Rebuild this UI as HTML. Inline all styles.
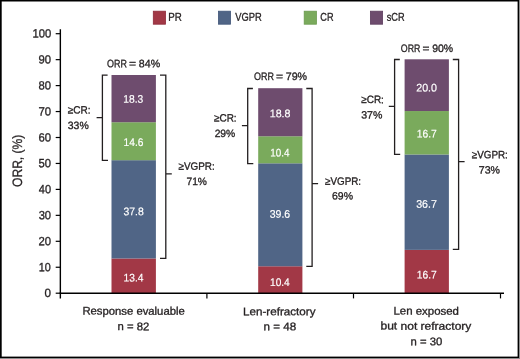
<!DOCTYPE html><html><head><meta charset="utf-8"><style>html,body{margin:0;padding:0;background:#fff}svg{display:block;will-change:transform}text{font-family:"Liberation Sans", sans-serif;stroke-width:0.32px;paint-order:stroke}</style></head><body>
<svg width="520" height="359" viewBox="0 0 520 359"><g>
<rect x="0" y="0" width="520" height="359" fill="#fff"/>
<rect x="519" y="0" width="1" height="359" fill="#8e8e8e"/>
<rect x="0" y="358" width="520" height="1" fill="#8e8e8e"/>
<g fill="#000"><rect x="0" y="0" width="1.7" height="358"/><rect x="0" y="0" width="519" height="1.5"/><rect x="517.6" y="0" width="1.4" height="358"/><rect x="0" y="356.6" width="519" height="1.4"/></g>
<rect x="153.30" y="11.2" width="12.2" height="13.0" fill="#a23846" stroke="#8e2a3a" stroke-width="0.8"/>
<text x="168.26" y="20.80" font-size="11.30" textLength="13.53" lengthAdjust="spacingAndGlyphs" fill="#231f20" stroke="#231f20" transform="rotate(0.1 168.26 20.80)">PR</text>
<rect x="218.40" y="11.2" width="12.2" height="13.0" fill="#506586" stroke="#42577a" stroke-width="0.8"/>
<text x="235.32" y="20.80" font-size="11.30" textLength="26.45" lengthAdjust="spacingAndGlyphs" fill="#231f20" stroke="#231f20" transform="rotate(0.1 235.32 20.80)">VGPR</text>
<rect x="304.20" y="11.2" width="12.2" height="13.0" fill="#7aaa5c" stroke="#6a9a4e" stroke-width="0.8"/>
<text x="320.30" y="20.80" font-size="11.30" textLength="13.17" lengthAdjust="spacingAndGlyphs" fill="#231f20" stroke="#231f20" transform="rotate(0.1 320.30 20.80)">CR</text>
<rect x="370.40" y="11.2" width="12.2" height="13.0" fill="#6e4c6e" stroke="#5e3e60" stroke-width="0.8"/>
<text x="386.70" y="20.80" font-size="11.30" textLength="17.86" lengthAdjust="spacingAndGlyphs" fill="#231f20" stroke="#231f20" transform="rotate(0.1 386.70 20.80)">sCR</text>
<rect x="111.50" y="258.46" width="44.40" height="34.84" fill="#a23846"/>
<rect x="111.50" y="160.18" width="44.40" height="98.28" fill="#506586"/>
<rect x="111.50" y="122.22" width="44.40" height="37.96" fill="#7aaa5c"/>
<rect x="111.50" y="75.00" width="44.40" height="47.22" fill="#6e4c6e"/>
<rect x="258.20" y="266.26" width="44.20" height="27.04" fill="#a23846"/>
<rect x="258.20" y="163.30" width="44.20" height="102.96" fill="#506586"/>
<rect x="258.20" y="136.26" width="44.20" height="27.04" fill="#7aaa5c"/>
<rect x="258.20" y="88.20" width="44.20" height="48.06" fill="#6e4c6e"/>
<rect x="404.60" y="249.88" width="44.30" height="43.42" fill="#a23846"/>
<rect x="404.60" y="154.46" width="44.30" height="95.42" fill="#506586"/>
<rect x="404.60" y="111.04" width="44.30" height="43.42" fill="#7aaa5c"/>
<rect x="404.60" y="59.30" width="44.30" height="51.74" fill="#6e4c6e"/>
<text style="stroke-width:0.18px" x="123.61" y="281.50" font-size="11.00" textLength="19.90" lengthAdjust="spacingAndGlyphs" fill="#fff" stroke="#fff" transform="rotate(0.1 123.61 281.50)">13.4</text>
<text style="stroke-width:0.18px" x="123.49" y="215.20" font-size="11.00" textLength="20.27" lengthAdjust="spacingAndGlyphs" fill="#fff" stroke="#fff" transform="rotate(0.1 123.49 215.20)">37.8</text>
<text style="stroke-width:0.18px" x="123.61" y="146.10" font-size="11.00" textLength="19.84" lengthAdjust="spacingAndGlyphs" fill="#fff" stroke="#fff" transform="rotate(0.1 123.61 146.10)">14.6</text>
<text style="stroke-width:0.18px" x="123.31" y="102.80" font-size="11.00" textLength="19.95" lengthAdjust="spacingAndGlyphs" fill="#fff" stroke="#fff" transform="rotate(0.1 123.31 102.80)">18.3</text>
<text style="stroke-width:0.18px" x="270.02" y="285.90" font-size="11.00" textLength="19.69" lengthAdjust="spacingAndGlyphs" fill="#fff" stroke="#fff" transform="rotate(0.1 270.02 285.90)">10.4</text>
<text style="stroke-width:0.18px" x="269.69" y="217.80" font-size="11.00" textLength="20.48" lengthAdjust="spacingAndGlyphs" fill="#fff" stroke="#fff" transform="rotate(0.1 269.69 217.80)">39.6</text>
<text style="stroke-width:0.18px" x="270.24" y="156.50" font-size="11.00" textLength="19.16" lengthAdjust="spacingAndGlyphs" fill="#fff" stroke="#fff" transform="rotate(0.1 270.24 156.50)">10.4</text>
<text style="stroke-width:0.18px" x="269.78" y="117.20" font-size="11.00" textLength="20.69" lengthAdjust="spacingAndGlyphs" fill="#fff" stroke="#fff" transform="rotate(0.1 269.78 117.20)">18.8</text>
<text style="stroke-width:0.18px" x="416.71" y="278.60" font-size="11.00" textLength="20.02" lengthAdjust="spacingAndGlyphs" fill="#fff" stroke="#fff" transform="rotate(0.1 416.71 278.60)">16.7</text>
<text style="stroke-width:0.18px" x="416.18" y="207.80" font-size="11.00" textLength="20.76" lengthAdjust="spacingAndGlyphs" fill="#fff" stroke="#fff" transform="rotate(0.1 416.18 207.80)">36.7</text>
<text style="stroke-width:0.18px" x="416.71" y="137.60" font-size="11.00" textLength="20.02" lengthAdjust="spacingAndGlyphs" fill="#fff" stroke="#fff" transform="rotate(0.1 416.71 137.60)">16.7</text>
<text style="stroke-width:0.18px" x="416.25" y="91.60" font-size="11.00" textLength="20.77" lengthAdjust="spacingAndGlyphs" fill="#fff" stroke="#fff" transform="rotate(0.1 416.25 91.60)">20.0</text>
<text x="107.04" y="67.30" font-size="10.80" textLength="19.88" lengthAdjust="spacingAndGlyphs" fill="#231f20" stroke="#231f20" transform="rotate(0.1 107.04 67.30)">ORR</text>
<text x="128.98" y="67.30" font-size="10.80" textLength="7.07" lengthAdjust="spacingAndGlyphs" fill="#231f20" stroke="#231f20" transform="rotate(0.1 128.98 67.30)">=</text>
<text x="138.86" y="67.30" font-size="10.80" textLength="21.26" lengthAdjust="spacingAndGlyphs" fill="#231f20" stroke="#231f20" transform="rotate(0.1 138.86 67.30)">84%</text>
<text x="253.94" y="79.90" font-size="10.80" textLength="19.92" lengthAdjust="spacingAndGlyphs" fill="#231f20" stroke="#231f20" transform="rotate(0.1 253.94 79.90)">ORR</text>
<text x="275.92" y="79.90" font-size="10.80" textLength="7.08" lengthAdjust="spacingAndGlyphs" fill="#231f20" stroke="#231f20" transform="rotate(0.1 275.92 79.90)">=</text>
<text x="285.74" y="79.90" font-size="10.80" textLength="21.38" lengthAdjust="spacingAndGlyphs" fill="#231f20" stroke="#231f20" transform="rotate(0.1 285.74 79.90)">79%</text>
<text x="400.84" y="52.00" font-size="10.80" textLength="19.57" lengthAdjust="spacingAndGlyphs" fill="#231f20" stroke="#231f20" transform="rotate(0.1 400.84 52.00)">ORR</text>
<text x="422.45" y="52.00" font-size="10.80" textLength="6.95" lengthAdjust="spacingAndGlyphs" fill="#231f20" stroke="#231f20" transform="rotate(0.1 422.45 52.00)">=</text>
<text x="432.15" y="52.00" font-size="10.80" textLength="20.96" lengthAdjust="spacingAndGlyphs" fill="#231f20" stroke="#231f20" transform="rotate(0.1 432.15 52.00)">90%</text>
<text x="67.84" y="113.40" font-size="10.60" textLength="22.71" lengthAdjust="spacingAndGlyphs" fill="#231f20" stroke="#231f20" transform="rotate(0.1 67.84 113.40)">≥CR:</text>
<text x="67.76" y="129.10" font-size="10.60" textLength="20.95" lengthAdjust="spacingAndGlyphs" fill="#231f20" stroke="#231f20" transform="rotate(0.1 67.76 129.10)">33%</text>
<text x="214.04" y="121.40" font-size="10.60" textLength="22.60" lengthAdjust="spacingAndGlyphs" fill="#231f20" stroke="#231f20" transform="rotate(0.1 214.04 121.40)">≥CR:</text>
<text x="214.64" y="137.10" font-size="10.60" textLength="20.67" lengthAdjust="spacingAndGlyphs" fill="#231f20" stroke="#231f20" transform="rotate(0.1 214.64 137.10)">29%</text>
<text x="361.24" y="103.10" font-size="10.60" textLength="22.60" lengthAdjust="spacingAndGlyphs" fill="#231f20" stroke="#231f20" transform="rotate(0.1 361.24 103.10)">≥CR:</text>
<text x="361.16" y="118.50" font-size="10.60" textLength="21.16" lengthAdjust="spacingAndGlyphs" fill="#231f20" stroke="#231f20" transform="rotate(0.1 361.16 118.50)">37%</text>
<text x="178.55" y="169.80" font-size="10.60" textLength="36.20" lengthAdjust="spacingAndGlyphs" fill="#231f20" stroke="#231f20" transform="rotate(0.1 178.55 169.80)">≥VGPR:</text>
<text x="186.44" y="185.00" font-size="10.60" textLength="20.47" lengthAdjust="spacingAndGlyphs" fill="#231f20" stroke="#231f20" transform="rotate(0.1 186.44 185.00)">71%</text>
<text x="325.05" y="184.70" font-size="10.60" textLength="35.99" lengthAdjust="spacingAndGlyphs" fill="#231f20" stroke="#231f20" transform="rotate(0.1 325.05 184.70)">≥VGPR:</text>
<text x="332.03" y="199.60" font-size="10.60" textLength="20.99" lengthAdjust="spacingAndGlyphs" fill="#231f20" stroke="#231f20" transform="rotate(0.1 332.03 199.60)">69%</text>
<text x="471.85" y="158.20" font-size="10.60" textLength="35.99" lengthAdjust="spacingAndGlyphs" fill="#231f20" stroke="#231f20" transform="rotate(0.1 471.85 158.20)">≥VGPR:</text>
<text x="478.82" y="173.60" font-size="10.60" textLength="21.20" lengthAdjust="spacingAndGlyphs" fill="#231f20" stroke="#231f20" transform="rotate(0.1 478.82 173.60)">73%</text>
<text x="82.43" y="314.60" font-size="11.00" textLength="102.31" lengthAdjust="spacingAndGlyphs" fill="#231f20" stroke="#231f20" transform="rotate(0.1 82.43 314.60)">Response evaluable</text>
<text x="117.51" y="330.10" font-size="11.00" textLength="31.80" lengthAdjust="spacingAndGlyphs" fill="#231f20" stroke="#231f20" transform="rotate(0.1 117.51 330.10)">n = 82</text>
<text x="243.01" y="315.20" font-size="11.00" textLength="72.46" lengthAdjust="spacingAndGlyphs" fill="#231f20" stroke="#231f20" transform="rotate(0.1 243.01 315.20)">Len-refractory</text>
<text x="263.59" y="330.20" font-size="11.00" textLength="32.55" lengthAdjust="spacingAndGlyphs" fill="#231f20" stroke="#231f20" transform="rotate(0.1 263.59 330.20)">n = 48</text>
<text x="393.42" y="314.60" font-size="11.00" textLength="65.56" lengthAdjust="spacingAndGlyphs" fill="#231f20" stroke="#231f20" transform="rotate(0.1 393.42 314.60)">Len exposed</text>
<text x="380.49" y="329.60" font-size="11.00" textLength="90.88" lengthAdjust="spacingAndGlyphs" fill="#231f20" stroke="#231f20" transform="rotate(0.1 380.49 329.60)">but not refractory</text>
<text x="410.51" y="345.30" font-size="11.00" textLength="31.77" lengthAdjust="spacingAndGlyphs" fill="#231f20" stroke="#231f20" transform="rotate(0.1 410.51 345.30)">n = 30</text>
<g stroke="#000" stroke-width="1.4" fill="none" stroke-linecap="butt">
<line x1="60.35" y1="29.2" x2="60.35" y2="298.4"/>
<line x1="59.6" y1="293.30" x2="504" y2="293.30"/>
</g><g stroke="#000" stroke-width="1.2" fill="none">
<line x1="55.7" y1="293.20" x2="60.35" y2="293.20"/>
<line x1="55.7" y1="267.25" x2="60.35" y2="267.25"/>
<line x1="55.7" y1="241.30" x2="60.35" y2="241.30"/>
<line x1="55.7" y1="215.35" x2="60.35" y2="215.35"/>
<line x1="55.7" y1="189.40" x2="60.35" y2="189.40"/>
<line x1="55.7" y1="163.45" x2="60.35" y2="163.45"/>
<line x1="55.7" y1="137.50" x2="60.35" y2="137.50"/>
<line x1="55.7" y1="111.55" x2="60.35" y2="111.55"/>
<line x1="55.7" y1="85.60" x2="60.35" y2="85.60"/>
<line x1="55.7" y1="59.65" x2="60.35" y2="59.65"/>
<line x1="55.7" y1="33.70" x2="60.35" y2="33.70"/>
<line x1="206.9" y1="293.30" x2="206.9" y2="298.4"/>
<line x1="353.5" y1="293.30" x2="353.5" y2="298.4"/>
<line x1="500.5" y1="293.30" x2="500.5" y2="298.4"/>
</g>
<g stroke="#231f20" stroke-width="1.3" fill="none">
<path d="M107.60 75.20 H102.40 V160.30 H108.00 M96.60 117.60 H102.40"/>
<path d="M252.90 88.50 H247.70 V163.60 H253.30 M241.90 125.60 H247.70"/>
<path d="M399.80 59.50 H394.60 V154.30 H400.20 M388.80 106.40 H394.60"/>
<path d="M160.00 75.20 H165.80 V258.30 H160.00 M165.80 173.90 H171.80"/>
<path d="M306.30 88.50 H312.10 V266.30 H306.30 M312.10 183.70 H318.10"/>
<path d="M452.80 59.50 H458.60 V249.30 H452.80 M458.60 161.70 H464.60"/>
</g>
<text x="44.60" y="297.10" font-size="12.00" textLength="6.49" lengthAdjust="spacingAndGlyphs" fill="#231f20" stroke="#231f20" transform="rotate(0.1 44.60 297.10)">0</text>
<text x="38.74" y="271.15" font-size="12.00" textLength="12.03" lengthAdjust="spacingAndGlyphs" fill="#231f20" stroke="#231f20" transform="rotate(0.1 38.74 271.15)">10</text>
<text x="38.49" y="245.20" font-size="12.00" textLength="12.59" lengthAdjust="spacingAndGlyphs" fill="#231f20" stroke="#231f20" transform="rotate(0.1 38.49 245.20)">20</text>
<text x="38.63" y="219.25" font-size="12.00" textLength="12.44" lengthAdjust="spacingAndGlyphs" fill="#231f20" stroke="#231f20" transform="rotate(0.1 38.63 219.25)">30</text>
<text x="38.81" y="193.30" font-size="12.00" textLength="12.26" lengthAdjust="spacingAndGlyphs" fill="#231f20" stroke="#231f20" transform="rotate(0.1 38.81 193.30)">40</text>
<text x="38.61" y="167.35" font-size="12.00" textLength="12.47" lengthAdjust="spacingAndGlyphs" fill="#231f20" stroke="#231f20" transform="rotate(0.1 38.61 167.35)">50</text>
<text x="38.48" y="141.40" font-size="12.00" textLength="12.60" lengthAdjust="spacingAndGlyphs" fill="#231f20" stroke="#231f20" transform="rotate(0.1 38.48 141.40)">60</text>
<text x="38.48" y="115.45" font-size="12.00" textLength="12.60" lengthAdjust="spacingAndGlyphs" fill="#231f20" stroke="#231f20" transform="rotate(0.1 38.48 115.45)">70</text>
<text x="38.57" y="89.50" font-size="12.00" textLength="12.51" lengthAdjust="spacingAndGlyphs" fill="#231f20" stroke="#231f20" transform="rotate(0.1 38.57 89.50)">80</text>
<text x="38.53" y="63.55" font-size="12.00" textLength="12.55" lengthAdjust="spacingAndGlyphs" fill="#231f20" stroke="#231f20" transform="rotate(0.1 38.53 63.55)">90</text>
<text x="32.40" y="37.60" font-size="12.00" textLength="18.78" lengthAdjust="spacingAndGlyphs" fill="#231f20" stroke="#231f20" transform="rotate(0.1 32.40 37.60)">100</text>
<text transform="translate(22.0,187.0) rotate(-89.9)" font-size="13.6" textLength="52.4" lengthAdjust="spacingAndGlyphs" fill="#231f20" stroke="#231f20" style="stroke-width:0.3px">ORR, (%)</text>
</g></svg></body></html>
